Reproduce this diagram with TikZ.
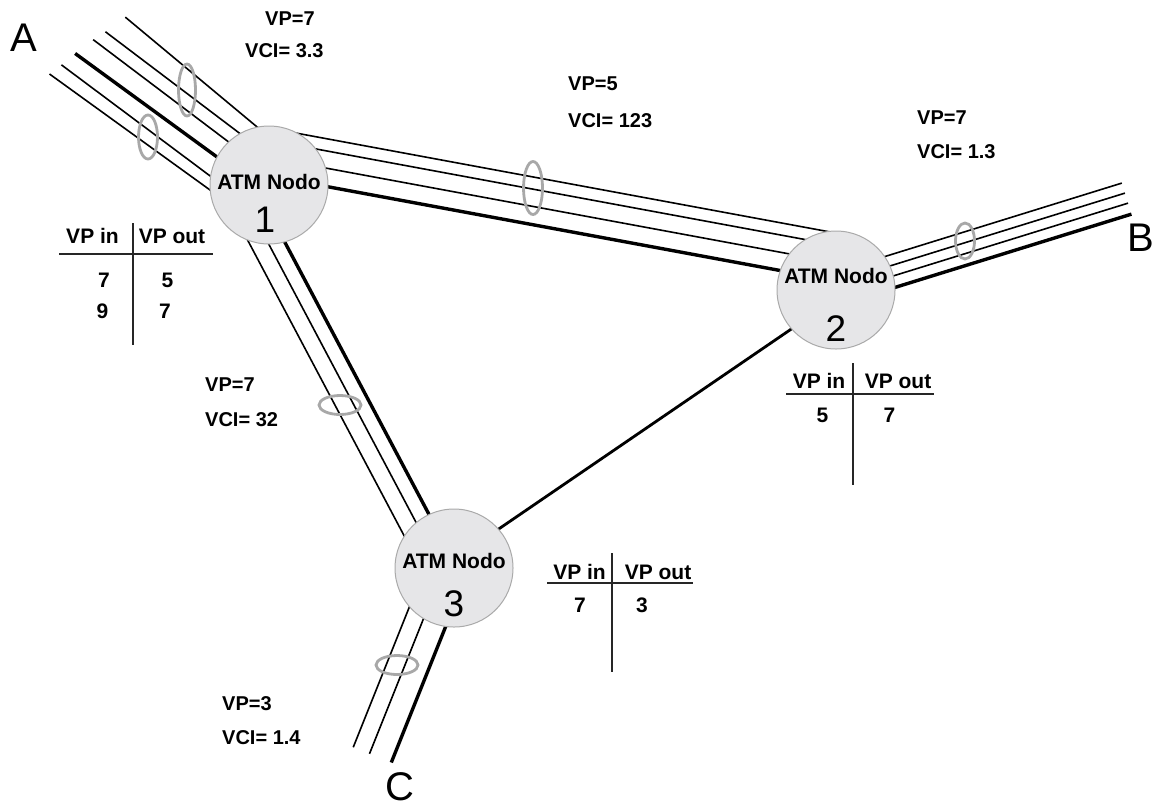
\documentclass[tikz,border=0pt]{standalone}
\usepackage{fontspec}
\setmainfont{Liberation Sans}
\usetikzlibrary{calc}
\definecolor{nodefill}{HTML}{E6E6E8}
\definecolor{nodeedge}{HTML}{AAAAAA}
\definecolor{ringgray}{HTML}{A8A8A8}
\newcommand\bline[5]{\draw[#5] ($(#1)!#3pt!90:(#2)$) -- ($(#2)!#4pt!-90:(#1)$);}
\begin{document}
\begin{tikzpicture}[x=1pt,y=-1pt,
  thinln/.style={line width=1.6pt},
  thickln/.style={line width=3.4pt},
  midln/.style={line width=2.8pt},
  ring/.style={draw=ringgray,line width=2.8pt},
  atm/.style={circle,fill=nodefill,draw=nodeedge,line width=1pt,minimum size=118pt,inner sep=0pt},
  atmtext/.style={font=\fontsize{21}{25}\selectfont\bfseries,inner sep=0pt},
  atmnum/.style={font=\fontsize{37}{44}\selectfont,inner sep=0pt},
  lbl/.style={font=\fontsize{20}{24}\selectfont\bfseries,inner sep=0pt},
  tbl/.style={font=\fontsize{21}{25}\selectfont\bfseries,inner sep=0pt,anchor=base},
  tblline/.style={line width=2pt,draw=black!85},
  big/.style={font=\fontsize{40}{48}\selectfont,inner sep=0pt}]
\useasboundingbox[fill=white] (0,0) rectangle (1155,807);

% centres and free ends
\coordinate (c1) at (269,185);
\coordinate (c2) at (836,290);
\coordinate (c3) at (454,568);
\coordinate (Aend) at (74,36.8);
\coordinate (Bend) at (1127,199.8);
\coordinate (Cend) at (378.3,757.3);

% bundle A -- node 1
\bline{c1}{Aend}{-37}{-48}{thinln,shorten >=29pt}
\bline{c1}{Aend}{-23.5}{-23}{thinln,shorten >=22pt}
\bline{c1}{Aend}{-10}{-9.3}{thinln,shorten >=17pt}
\bline{c1}{Aend}{8}{12.8}{thickln,shorten >=11pt}
\bline{c1}{Aend}{28}{30}{thinln,shorten >=7pt}
\bline{c1}{Aend}{38.6}{44.5}{thinln,shorten >=3pt}

% bundle node 1 -- node 2
\bline{c1}{c2}{56}{56}{thinln}
\bline{c1}{c2}{44}{44}{thinln}
\bline{c1}{c2}{27}{27}{thinln}
\bline{c1}{c2}{9}{9}{thickln}

% bundle node 2 -- B
\bline{c2}{Bend}{17.5}{17.5}{thinln}
\bline{c2}{Bend}{7}{7}{thinln}
\bline{c2}{Bend}{-3.5}{-3.5}{thinln}
\bline{c2}{Bend}{-15}{-15}{thickln}

% bundle node 1 -- node 3
\bline{c1}{c3}{-44.7}{-29}{thinln}
\bline{c1}{c3}{-27.9}{-12.2}{thinln}
\bline{c1}{c3}{-12.8}{3}{thickln}

% bundle node 3 -- C
\bline{c3}{Cend}{-27}{-27}{thinln}
\bline{c3}{Cend}{-9.5}{-9.5}{thinln}
\bline{c3}{Cend}{14}{14}{thickln}

% node 3 -- node 2
\bline{c3}{c2}{7}{-7}{midln}

% rings
\draw[ring] (187,90) ellipse [x radius=8.5pt, y radius=26pt];
\draw[ring] (148,137) ellipse [x radius=9.5pt, y radius=22pt];
\draw[ring] (533,188) ellipse [x radius=9.5pt, y radius=26.5pt];
\draw[ring] (965,241) ellipse [x radius=9.5pt, y radius=18pt];
\draw[ring] (340,405) ellipse [x radius=21pt, y radius=9.5pt];
\draw[ring] (397,665) ellipse [x radius=21pt, y radius=9.5pt];

% ATM nodes
\node[atm] (n1) at (c1) {};
\node[atm] (n2) at (c2) {};
\node[atm] (n3) at (c3) {};
\node[atmtext] (n1t) at ($(c1)+(0,-3)$) {ATM Nodo};
\node[atmnum] (n1n) at ($(c1)+(-4,35)$) {1};
\node[atmtext] (n2t) at ($(c2)+(0,-14)$) {ATM Nodo};
\node[atmnum] (n2n) at ($(c2)+(0,38.5)$) {2};
\node[atmtext] (n3t) at ($(c3)+(0,-7.5)$) {ATM Nodo};
\node[atmnum] (n3n) at ($(c3)+(0,35.5)$) {3};

% end letters
\node[big] (A) at (23.5,38) {A};
\node[big] (B) at (1141,238) {B};
\node[big] (C) at (400,787) {C};

% VP / VCI labels
\node[lbl,anchor=west] (l1a) at (265,18.5) {VP=7};
\node[lbl,anchor=west] (l1b) at (245,50.5) {VCI= 3.3};
\node[lbl,anchor=west] (l2a) at (568,84) {VP=5};
\node[lbl,anchor=west] (l2b) at (568,121) {VCI= 123};
\node[lbl,anchor=west] (l3a) at (917,118) {VP=7};
\node[lbl,anchor=west] (l3b) at (917,152) {VCI= 1.3};
\node[lbl,anchor=west] (l4a) at (205,385) {VP=7};
\node[lbl,anchor=west] (l4b) at (205,420) {VCI= 32};
\node[lbl,anchor=west] (l5a) at (222,704) {VP=3};
\node[lbl,anchor=west] (l5b) at (222,738) {VCI= 1.4};

% table 1
\node[tbl] (t1h1) at (92.5,243) {VP in};
\node[tbl] (t1h2) at (172,243) {VP out};
\node[tbl] (t1a) at (104,287) {7};
\node[tbl] (t1b) at (167.5,287) {5};
\node[tbl] (t1c) at (102.5,318) {9};
\node[tbl] (t1d) at (165,318) {7};
\draw[tblline] (132.7,223) -- (132.7,345);
\draw[tblline] (59,254) -- (213,254);

% table 2
\node[tbl] (t2h1) at (819,388) {VP in};
\node[tbl] (t2h2) at (898,388) {VP out};
\node[tbl] (t2a) at (822.5,422) {5};
\node[tbl] (t2b) at (889.5,422) {7};
\draw[tblline] (852.7,363) -- (852.7,485);
\draw[tblline] (786,394) -- (934,394);

% table 3
\node[tbl] (t3h1) at (579.5,579) {VP in};
\node[tbl] (t3h2) at (658,579) {VP out};
\node[tbl] (t3a) at (580,612) {7};
\node[tbl] (t3b) at (642,612) {3};
\draw[tblline] (611.7,553) -- (611.7,672);
\draw[tblline] (547,583) -- (693,583);
\end{tikzpicture}
\end{document}
